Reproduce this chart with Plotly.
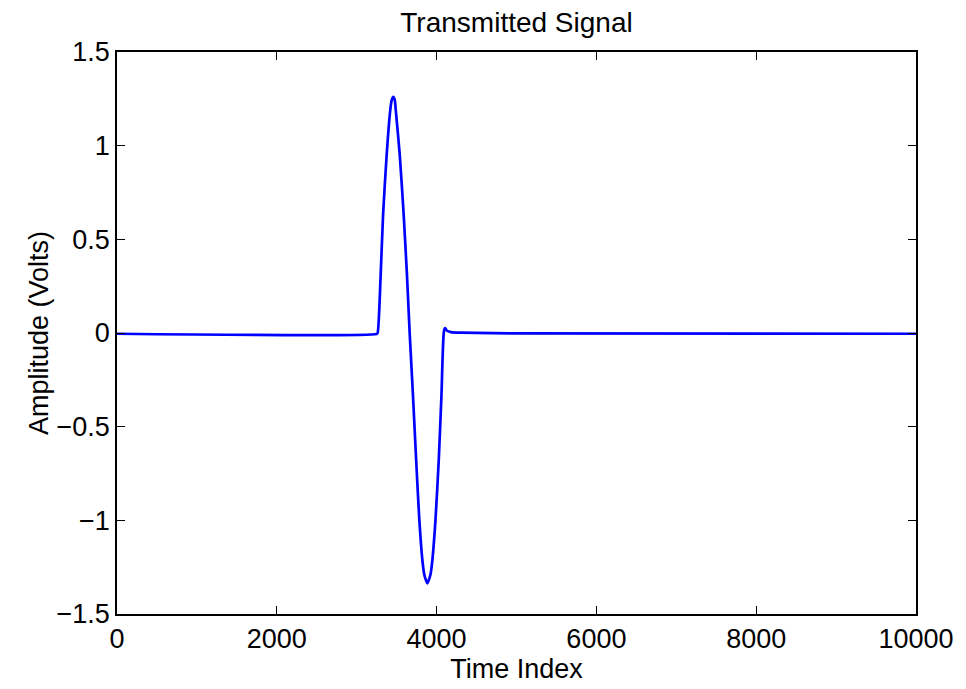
import plotly.graph_objects as go

# Values
time_index = [0, 3250, 3262, 3300, 3330, 3375, 3420, 3439, 3458, 3476, 3489, 3539,
              3588, 3629, 3663, 3704, 3744, 3784, 3822, 3847, 3884, 3922, 3947,
              3986, 4027, 4061, 4092, 4108, 4130, 4179, 4300, 5000, 10000]
amplitude = [-0.004, -0.005, 0.0, 0.31, 0.63, 0.95, 1.19, 1.244, 1.26, 1.244, 1.19, 0.95,
             0.63, 0.31, 0.0, -0.331, -0.678, -0.998, -1.212, -1.292, -1.336, -1.292, -1.212,
             -0.998, -0.678, -0.331, 0.01, 0.026, 0.012, 0.005, 0.002, -0.002, -0.004]

x_ticks = [0, 2000, 4000, 6000, 8000, 10000]
x_tick_labels = ["0", "2000", "4000", "6000", "8000", "10000"]
y_ticks = [-1.5, -1, -0.5, 0, 0.5, 1, 1.5]
y_tick_labels = ["\u22121.5", "\u22121", "\u22120.5", "0", "0.5", "1", "1.5"]

FONT = "Liberation Sans, Arial, Helvetica, sans-serif"
FS = 27

# The page body has an 8px default margin, so the figure is sized to fit inside it.
W, H = 958, 681

fig = go.Figure()
fig.add_trace(go.Scatter(x=time_index, y=amplitude, mode="lines",
                         line=dict(color="rgb(0,0,255)", width=2.7, shape="spline", smoothing=0.6),
                         showlegend=False, hoverinfo="x+y"))

axis_common = dict(showline=True, linecolor="black", linewidth=1.5, mirror="ticks",
                   ticks="inside", ticklen=8, tickwidth=1.2, tickcolor="black",
                   showgrid=False, zeroline=False,
                   tickfont=dict(family=FONT, size=FS, color="black"))

fig.update_xaxes(range=[0, 10000], tickvals=x_ticks, ticktext=x_tick_labels,
                 title=dict(text="Time Index", font=dict(family=FONT, size=FS, color="black"), standoff=2),
                 **axis_common)
fig.update_yaxes(range=[-1.5, 1.5], tickvals=y_ticks, ticktext=y_tick_labels,
                 title=dict(text="Amplitude (Volts)", font=dict(family=FONT, size=FS, color="black"), standoff=0),
                 **axis_common)

fig.update_layout(
    width=W, height=H,
    margin=dict(l=109, r=45, t=44, b=75, pad=0),
    paper_bgcolor="white", plot_bgcolor="white",
    font=dict(family=FONT, size=FS, color="black"),
    title=dict(text="Transmitted Signal", x=0.5, xref="paper", xanchor="center",
               y=1 - 4 / H, yref="container", yanchor="top", pad=dict(t=0, b=0, l=0, r=0),
               font=dict(family=FONT, size=28, color="black")),
)

fig.write_html("out.html")
